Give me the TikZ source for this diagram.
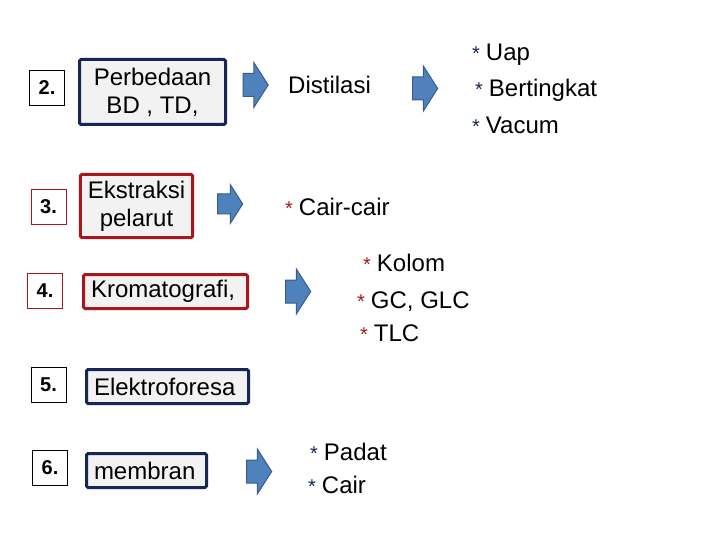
\documentclass[tikz,border=0pt]{standalone}
\usepackage{fontspec}
\setmainfont{Liberation Sans}
\usetikzlibrary{shapes.arrows}
\definecolor{biru}{RGB}{22,38,86}
\definecolor{merah}{RGB}{168,22,30}
\definecolor{abu}{RGB}{242,242,242}
\definecolor{panahisi}{RGB}{79,129,189}
\definecolor{panahtepi}{RGB}{56,93,138}
\tikzset{
  kotak/.style={draw, line width=3pt, fill=abu, rounded corners=1.5pt,
    inner xsep=7.5pt, inner ysep=3pt, font=\fontsize{24}{28}\selectfont},
  kotakB/.style={kotak, draw=biru},
  kotakM/.style={kotak, draw=merah},
  nomor/.style={draw, line width=0.8pt, fill=white, minimum size=35pt,
    inner sep=0pt, font=\fontsize{20}{20}\selectfont\bfseries},
  panah/.style={single arrow, draw=panahtepi, fill=panahisi, line width=1pt,
    minimum height=25pt, inner xsep=0pt, inner ysep=11pt,
    single arrow head extend=11pt, single arrow tip angle=115},
  teks/.style={anchor=base west, inner sep=0pt, font=\fontsize{24}{28}\selectfont},
}
\newcommand{\bintang}[1]{{\fontsize{20}{20}\selectfont\textcolor{#1}{*}}\hspace{6pt}}

\begin{document}
\begin{tikzpicture}[x=1pt, y=-1pt]
\path[use as bounding box, fill=white] (0,0) rectangle (720,540);

% nomor urut
\node[nomor, draw=black] (n2) at (47,88) {2.};
\node[nomor, draw=merah] (n3) at (48.5,206.5) {3.};
\node[nomor, draw=merah] (n4) at (45,291) {4.};
\node[nomor, draw=black] (n5) at (48.5,384.5) {5.};
\node[nomor, draw=black] (n6) at (50,468) {6.};

% kotak metode
\node[kotakB, align=center, minimum width=146pt, minimum height=65pt] (perbedaan)
  at (152.5,92) {Perbedaan\\BD , TD,};
\node[kotakM, align=center, minimum width=110pt, minimum height=63pt] (ekstraksi)
  at (136.5,206) {Ekstraksi\\pelarut};
\node[kotakM, text width=149pt, minimum height=34pt] (kromatografi)
  at (165.5,291.5) {Kromatografi,};
\node[kotakB, text width=147pt, minimum height=34pt] (elektroforesa)
  at (167.5,386.5) {Elektroforesa};
\node[kotakB, text width=105pt, minimum height=34pt] (membran)
  at (146.5,470.5) {membran};

% panah blok
\node[panah] (p2) at (252,85) {};
\node[panah] (p2b) at (421.5,88.5) {};
\node[panah, inner ysep=9.5pt, single arrow head extend=9.5pt] (p3) at (227,204) {};
\node[panah] (p4) at (294.5,291.5) {};
\node[panah] (p6) at (255.5,471.5) {};

% keterangan
\node[teks] (distilasi) at (288,93.5) {Distilasi};
\node[teks] (uap) at (472,60.5) {\bintang{biru}Uap};
\node[teks] (bertingkat) at (475,96.5) {\bintang{biru}Bertingkat};
\node[teks] (vacum) at (472,133.5) {\bintang{biru}Vacum};
\node[teks] (cairCair) at (285,215.5) {\bintang{merah}Cair-cair};
\node[teks] (kolom) at (363,271.5) {\bintang{merah}Kolom};
\node[teks] (gc) at (357,308) {\bintang{merah}GC, GLC};
\node[teks] (tlc) at (360,341.5) {\bintang{merah}TLC};
\node[teks] (padat) at (310,460.5) {\bintang{biru}Padat};
\node[teks] (cair) at (308,493.5) {\bintang{biru}Cair};

\end{tikzpicture}
\end{document}
